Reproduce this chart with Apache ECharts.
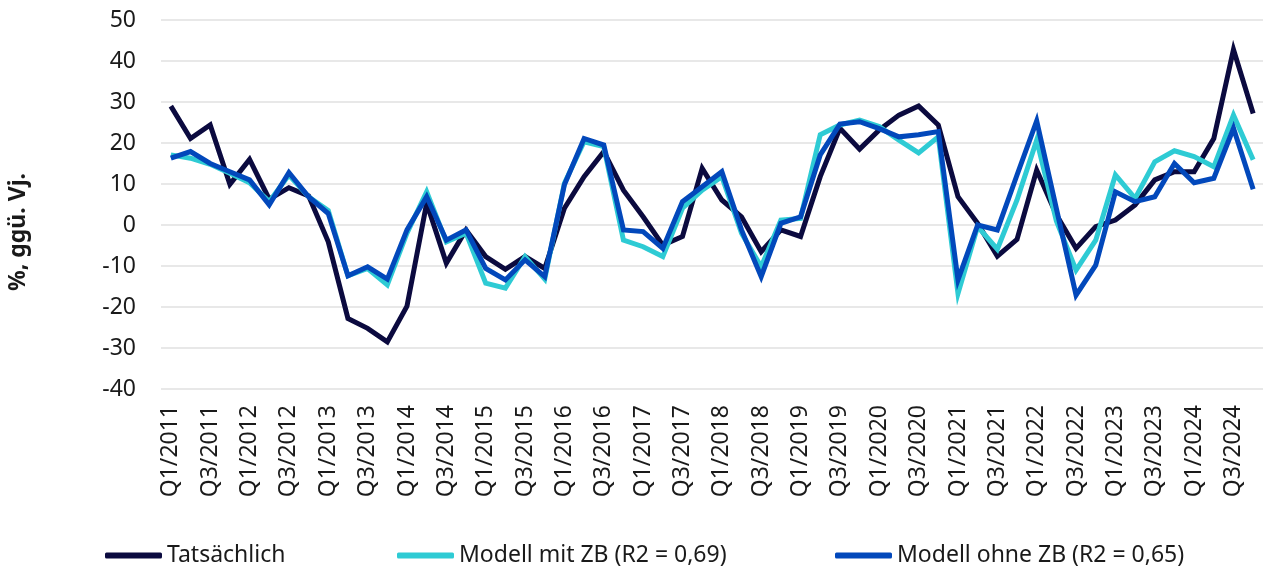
<!DOCTYPE html>
<html>
<head>
<meta charset="utf-8">
<script src="https://cdn.jsdelivr.net/npm/echarts@6/dist/echarts.min.js"></script>
<style>
    html, body { margin: 0; padding: 0; background: #fff; }
    #chart { width: 1263px; height: 567px; }
</style>
</head>
<body>
<div id="chart"></div>
<script>
    var quarters = [];
    for (var y = 2011; y <= 2024; y++) {
        for (var q = 1; q <= 4; q++) {
            quarters.push('Q' + q + '/' + y);
        }
    }

    // Tatsächlich
    var actual = [29.0, 21.1, 24.4, 9.9, 16.0, 6.3, 9.1, 7.1, -4.1, -22.8, -25.2, -28.5,
        -19.8, 5.3, -9.3, -1.2, -7.7, -10.8, -7.7, -10.6, 4.1, 11.8, 17.9, 8.5,
        2.0, -4.9, -2.8, 13.8, 6.1, 2.0, -6.5, -1.2, -2.8, 11.8, 23.6, 18.5,
        23.2, 26.8, 29.0, 24.4, 6.9, 0.4, -7.6, -3.5, 13.4, 2.5, -5.7, -0.4,
        1.2, 4.9, 11.0, 13.0, 13.0, 21.1, 42.8, 27.2];

    // Modell mit ZB
    var withZB = [17.1, 16.3, 14.8, 12.6, 10.3, 5.7, 12.2, 6.9, 3.5, -12.4, -10.6, -14.6,
        -2.0, 8.1, -4.1, -2.0, -14.2, -15.4, -7.7, -13.2, 10.2, 20.3, 19.1, -3.7,
        -5.3, -7.7, 4.1, 8.5, 11.8, -2.0, -10.2, 1.2, 1.6, 22.0, 24.4, 25.6,
        24.0, 20.7, 17.6, 21.5, -16.7, -0.4, -5.9, 6.1, 20.7, 1.0, -11.0, -3.7,
        12.2, 6.5, 15.4, 18.1, 16.7, 14.2, 26.8, 15.9];

    // Modell ohne ZB
    var withoutZB = [16.3, 17.9, 15.0, 13.0, 11.0, 4.9, 12.8, 6.9, 2.8, -12.4, -10.2, -13.2,
        -1.2, 6.9, -3.7, -1.2, -10.6, -13.4, -8.5, -12.6, 9.8, 21.1, 19.5, -1.2,
        -1.6, -5.7, 5.7, 9.3, 13.0, -1.2, -12.6, 0.4, 2.0, 17.1, 24.6, 25.2,
        23.5, 21.5, 22.0, 22.8, -13.4, 0.0, -1.2, 12.2, 25.4, 4.0, -17.1, -9.8,
        8.1, 5.7, 6.9, 15.0, 10.3, 11.4, 23.6, 8.7];

    var seriesNames = ['Tatsächlich', 'Modell mit ZB (R2 = 0,69)', 'Modell ohne ZB (R2 = 0,65)'];
    var colors = ['#0b0a3f', '#2ecbd4', '#0248bb'];
    var legendLeft = [100, 392, 830];
    var yAxisTitle = '%, ggü. Vj.';

    var font = 'Noto Sans';
    var textColor = '#1a1a1a';
    var chart = echarts.init(document.getElementById('chart'));

    var makeLine = function (name, data, color, z) {
        return {
            name: name,
            type: 'line',
            data: data,
            symbol: 'none',
            z: z,
            lineStyle: { color: color, width: 5, join: 'miter' },
            itemStyle: { color: color }
        };
    };

    // one legend per item so each can sit where it sits in the original
    var legends = seriesNames.map(function (name, i) {
        return {
            left: legendLeft[i],
            top: 539,
            icon: 'roundRect',
            itemWidth: 57,
            itemHeight: 6,
            textStyle: { fontFamily: font, fontSize: 23, color: textColor },
            data: [name]
        };
    });

    chart.setOption({
        animation: false,
        color: colors,
        grid: { left: 161, right: 0, top: 20, bottom: 178, containLabel: false },
        legend: legends,
        graphic: [{
            type: 'text',
            x: 18,
            y: 232,
            rotation: Math.PI / 2,
            style: {
                text: yAxisTitle,
                fontFamily: font,
                fontSize: 23,
                fontWeight: 'bold',
                fill: textColor,
                align: 'center',
                verticalAlign: 'middle'
            }
        }],
        xAxis: {
            type: 'category',
            data: quarters,
            boundaryGap: true,
            axisLine: { show: false },
            axisTick: { show: false },
            axisLabel: {
                interval: 1,
                rotate: 90,
                margin: 16,
                fontFamily: font,
                fontSize: 23,
                color: textColor
            }
        },
        yAxis: {
            type: 'value',
            min: -40,
            max: 50,
            interval: 10,
            axisLine: { show: false },
            axisTick: { show: false },
            axisLabel: { margin: 25, fontFamily: font, fontSize: 23, color: textColor },
            splitLine: { lineStyle: { color: '#e8e8e8', width: 2 } }
        },
        series: [
            makeLine(seriesNames[0], actual, colors[0], 2),
            makeLine(seriesNames[1], withZB, colors[1], 3),
            makeLine(seriesNames[2], withoutZB, colors[2], 4)
        ]
    });
</script>
</body>
</html>
